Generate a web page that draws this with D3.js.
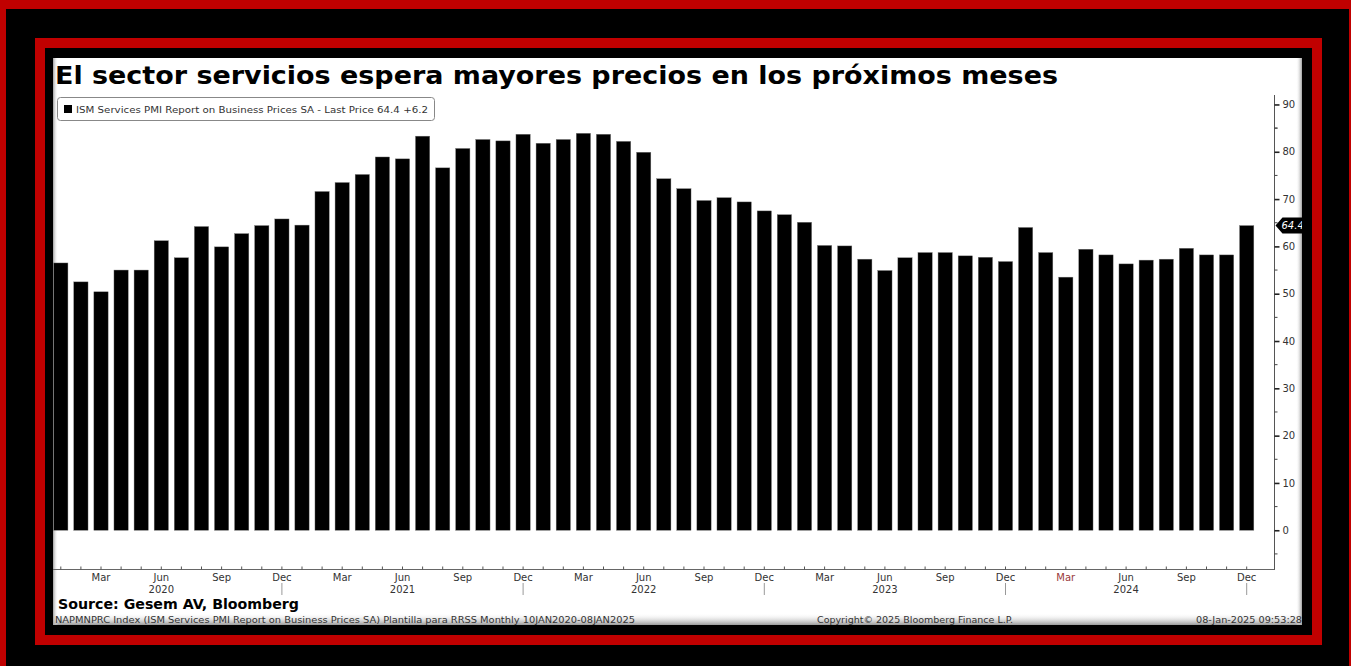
<!DOCTYPE html>
<html>
<head>
<meta charset="utf-8">
<script src="https://cdn.jsdelivr.net/npm/d3@7"></script>
<style>
  html, body { margin: 0; padding: 0; background: #000; }
  svg { display: block; }
</style>
</head>
<body>
<svg id="chart" width="1351" height="666"></svg>
<script>
// Monthly categories, Jan 2020 - Dec 2024
const months = [
  '2020-01', '2020-02', '2020-03', '2020-04', '2020-05', '2020-06', '2020-07', '2020-08', '2020-09', '2020-10', '2020-11', '2020-12',
  '2021-01', '2021-02', '2021-03', '2021-04', '2021-05', '2021-06', '2021-07', '2021-08', '2021-09', '2021-10', '2021-11', '2021-12',
  '2022-01', '2022-02', '2022-03', '2022-04', '2022-05', '2022-06', '2022-07', '2022-08', '2022-09', '2022-10', '2022-11', '2022-12',
  '2023-01', '2023-02', '2023-03', '2023-04', '2023-05', '2023-06', '2023-07', '2023-08', '2023-09', '2023-10', '2023-11', '2023-12',
  '2024-01', '2024-02', '2024-03', '2024-04', '2024-05', '2024-06', '2024-07', '2024-08', '2024-09', '2024-10', '2024-11', '2024-12'
]
// ISM Services PMI - Prices SA
const prices = [
  56.5, 52.5, 50.4, 55.0, 55.0, 61.2, 57.6, 64.2, 59.9, 62.7, 64.4, 65.8,
  64.5, 71.6, 73.5, 75.2, 78.9, 78.5, 83.3, 76.6, 80.7, 82.6, 82.3, 83.7,
  81.8, 82.6, 83.9, 83.7, 82.2, 79.9, 74.3, 72.2, 69.7, 70.3, 69.4, 67.5,
  66.7, 65.1, 60.2, 60.1, 57.3, 54.9, 57.6, 58.7, 58.7, 58.0, 57.7, 56.8,
  64.0, 58.7, 53.5, 59.4, 58.2, 56.3, 57.1, 57.3, 59.6, 58.2, 58.2, 64.4
]
const monthNames = ['Jan', 'Feb', 'Mar', 'Apr', 'May', 'Jun', 'Jul', 'Aug', 'Sep', 'Oct', 'Nov', 'Dec']
const labelMonths = ['Mar', 'Jun', 'Sep', 'Dec']
const yearLabels = ['2020', '2021', '2022', '2023', '2024']
const yTicks = [0, 10, 20, 30, 40, 50, 60, 70, 80, 90]
const lastPrice = 64.4
const titleText = 'El sector servicios espera mayores precios en los próximos meses'
const legendText = 'ISM Services PMI Report on Business Prices SA - Last Price 64.4  +6.2'

const svg = d3.select('#chart')
const red = '#c00000'

// frame: red / black / red / black / white panel
svg.append('rect').attr('x', 0).attr('y', 0).attr('width', 1351).attr('height', 666).attr('fill', red)
svg.append('rect').attr('x', 6).attr('y', 9).attr('width', 1343).attr('height', 670).attr('fill', '#000')
svg.append('rect').attr('x', 35).attr('y', 38).attr('width', 1287).attr('height', 607).attr('fill', red)
svg.append('rect').attr('x', 45).attr('y', 48).attr('width', 1267).attr('height', 587).attr('fill', '#000')

const defs = svg.append('defs')
const gb = defs.append('linearGradient').attr('id', 'shadeB').attr('x1', 0).attr('y1', 0).attr('x2', 0).attr('y2', 1)
gb.append('stop').attr('offset', '0%').attr('stop-color', '#fff').attr('stop-opacity', 0)
gb.append('stop').attr('offset', '100%').attr('stop-color', '#9a9a9a').attr('stop-opacity', 1)
const gl = defs.append('linearGradient').attr('id', 'shadeL').attr('x1', 0).attr('y1', 0).attr('x2', 1).attr('y2', 0)
gl.append('stop').attr('offset', '0%').attr('stop-color', '#a0a0a0').attr('stop-opacity', 1)
gl.append('stop').attr('offset', '100%').attr('stop-color', '#fff').attr('stop-opacity', 0)
const gr = defs.append('linearGradient').attr('id', 'shadeR').attr('x1', 0).attr('y1', 0).attr('x2', 1).attr('y2', 0)
gr.append('stop').attr('offset', '0%').attr('stop-color', '#fff').attr('stop-opacity', 0)
gr.append('stop').attr('offset', '100%').attr('stop-color', '#a0a0a0').attr('stop-opacity', 1)

svg.append('rect').attr('x', 53).attr('y', 58).attr('width', 1249).attr('height', 567).attr('fill', '#fff')
svg.append('rect').attr('x', 53).attr('y', 613).attr('width', 1249).attr('height', 12).attr('fill', 'url(#shadeB)')
svg.append('rect').attr('x', 53).attr('y', 58).attr('width', 5).attr('height', 567).attr('fill', 'url(#shadeL)')
svg.append('rect').attr('x', 1296).attr('y', 58).attr('width', 6).attr('height', 567).attr('fill', 'url(#shadeR)')

// clip to the panel
defs.append('clipPath').attr('id', 'panel')
  .append('rect').attr('x', 53).attr('y', 58).attr('width', 1249).attr('height', 567)
const g = svg.append('g').attr('clip-path', 'url(#panel)')

// Title
g.append('text')
  .attr('x', 55).attr('y', 84)
  .attr('font-family', 'DejaVu Sans, Verdana, sans-serif')
  .attr('font-weight', 'bold')
  .attr('font-size', 25)
  .attr('textLength', 1003)
  .attr('lengthAdjust', 'spacingAndGlyphs')
  .attr('fill', '#000')
  .text(titleText)

// Scales
const x = d3.scaleBand()
  .domain(months)
  .range([50.75, 1256.75])
  .paddingInner(0.29)
  .paddingOuter(0.145)

const y = d3.scaleLinear()
  .domain([-8.4, 92])
  .range([570, 95])

const axisX = 1274.5

// Bars
g.append('g')
  .selectAll('rect')
  .data(prices)
  .enter().append('rect')
  .attr('x', (d, i) => x(months[i]))
  .attr('y', d => y(d))
  .attr('width', x.bandwidth())
  .attr('height', d => y(0) - y(d))
  .attr('fill', '#000')
  .attr('stroke', '#777')
  .attr('stroke-width', 0.4)

// Y-axis (right side)
const yAxis = g.append('g')
  .attr('transform', 'translate(' + axisX + ',0)')
  .call(d3.axisRight(y).tickValues(yTicks).tickSize(5).tickPadding(3))
yAxis.select('.domain').attr('stroke', '#555').attr('d', 'M0,' + y(92) + 'V' + y(-8.4))
yAxis.selectAll('.tick line').attr('stroke', '#222').attr('stroke-width', 1.6)
yAxis.selectAll('.tick text')
  .attr('font-family', 'DejaVu Sans, Verdana, sans-serif')
  .attr('font-size', 10)
  .attr('fill', '#333')

// minor y ticks at 5s
g.append('g')
  .selectAll('line')
  .data(yTicks.map(v => v - 5).concat([85]).filter(v => v >= -5))
  .enter().append('line')
  .attr('x1', axisX).attr('x2', axisX + 3)
  .attr('y1', d => y(d)).attr('y2', d => y(d))
  .attr('stroke', '#444')

// Last price tag
const tagY = y(lastPrice)
g.append('path')
  .attr('d', 'M' + (axisX + 1) + ',' + tagY + 'L' + (axisX + 8) + ',' + (tagY - 8) + 'H1310V' + (tagY + 8) + 'H' + (axisX + 8) + 'Z')
  .attr('fill', '#000')
g.append('text')
  .attr('x', axisX + 7).attr('y', tagY + 3.5)
  .attr('font-family', 'DejaVu Sans, Verdana, sans-serif')
  .attr('font-size', 10)
  .attr('font-style', 'italic')
  .attr('fill', '#fff')
  .text(d3.format('.1f')(lastPrice))

// X-axis
const xBase = 569.5
g.append('line')
  .attr('x1', 53).attr('x2', axisX)
  .attr('y1', xBase).attr('y2', xBase)
  .attr('stroke', '#666')
g.append('g')
  .selectAll('line')
  .data(months)
  .enter().append('line')
  .attr('x1', d => x(d) + x.bandwidth() / 2)
  .attr('x2', d => x(d) + x.bandwidth() / 2)
  .attr('y1', xBase - 3).attr('y2', xBase)
  .attr('stroke', '#555')

const fmtMonth = d => monthNames[+d.split('-')[1] - 1]
g.append('g')
  .selectAll('text')
  .data(months.filter(d => labelMonths.indexOf(fmtMonth(d)) !== -1))
  .enter().append('text')
  .attr('x', d => x(d) + x.bandwidth() / 2)
  .attr('y', 581)
  .attr('text-anchor', 'middle')
  .attr('font-family', 'DejaVu Sans, Verdana, sans-serif')
  .attr('font-size', 10)
  .attr('fill', d => d === '2024-03' ? '#9a3a3a' : '#333')
  .text(fmtMonth)

// Year labels under June
g.append('g')
  .selectAll('text')
  .data(yearLabels)
  .enter().append('text')
  .attr('x', d => x(d + '-06') + x.bandwidth() / 2)
  .attr('y', 593)
  .attr('text-anchor', 'middle')
  .attr('font-family', 'DejaVu Sans, Verdana, sans-serif')
  .attr('font-size', 10)
  .attr('fill', '#333')
  .text(d => d)

// Year separators under December
g.append('g')
  .selectAll('line')
  .data(yearLabels)
  .enter().append('line')
  .attr('x1', d => x(d + '-12') + x.bandwidth() / 2)
  .attr('x2', d => x(d + '-12') + x.bandwidth() / 2)
  .attr('y1', 583).attr('y2', 595)
  .attr('stroke', '#999')

// Legend
const legend = g.append('g')
legend.append('rect')
  .attr('x', 57.5).attr('y', 97.5).attr('width', 377).attr('height', 23).attr('rx', 3)
  .attr('fill', '#fff').attr('stroke', '#888')
legend.append('rect')
  .attr('x', 64).attr('y', 105).attr('width', 8).attr('height', 8).attr('fill', '#000')
legend.append('text')
  .attr('x', 76).attr('y', 113)
  .attr('font-family', 'DejaVu Sans, Verdana, sans-serif')
  .attr('font-size', 9.5)
  .attr('textLength', 352)
  .attr('lengthAdjust', 'spacingAndGlyphs')
  .attr('fill', '#333')
  .text(legendText)

// Footer
g.append('text')
  .attr('x', 58).attr('y', 609)
  .attr('font-family', 'DejaVu Sans, Verdana, sans-serif')
  .attr('font-weight', 'bold')
  .attr('font-size', 14)
  .attr('textLength', 241)
  .attr('lengthAdjust', 'spacingAndGlyphs')
  .attr('fill', '#000')
  .text('Source: Gesem AV, Bloomberg')

const foot = g.append('g')
  .attr('font-family', 'DejaVu Sans, Verdana, sans-serif')
  .attr('font-size', 9)
  .attr('fill', '#333')
foot.append('text')
  .attr('x', 55).attr('y', 623)
  .attr('textLength', 580)
  .attr('lengthAdjust', 'spacingAndGlyphs')
  .text('NAPMNPRC Index (ISM Services PMI Report on Business Prices SA) Plantilla para RRSS  Monthly 10JAN2020-08JAN2025')
foot.append('text')
  .attr('x', 817).attr('y', 623)
  .attr('textLength', 196)
  .attr('lengthAdjust', 'spacingAndGlyphs')
  .text('Copyright© 2025 Bloomberg Finance L.P.')
foot.append('text')
  .attr('x', 1196).attr('y', 623)
  .attr('textLength', 106)
  .attr('lengthAdjust', 'spacingAndGlyphs')
  .text('08-Jan-2025 09:53:28')
</script>
</body>
</html>
